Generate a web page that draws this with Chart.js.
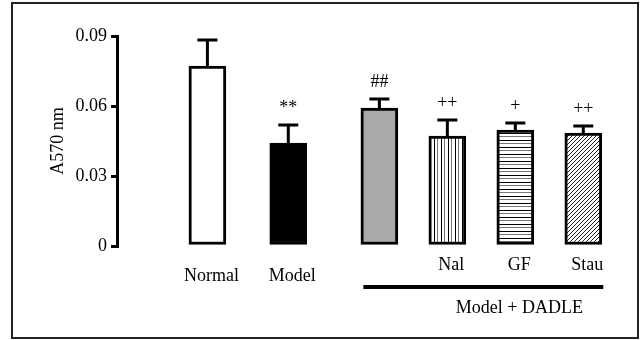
<!DOCTYPE html>
<html>
<head>
<meta charset="utf-8">
<title>A570 nm</title>
<script src="https://cdn.jsdelivr.net/npm/chart.js@4"></script>
<style>
    body { margin: 0; background: #fff; }
    canvas { display: block; }
</style>
</head>
<body>
<canvas id="absChart" width="642" height="340"></canvas>
<script>
// group names under the bars (the DADLE bar has no own label)
const groupLabels = ["Normal", "Model", "", "Nal", "GF", "Stau"];
// mean absorbance
const meanValues = [0.0771, 0.0441, 0.0591, 0.0471, 0.0497, 0.0484];
// error (upper whisker only)
const errValues = [0.0112, 0.0078, 0.0039, 0.0069, 0.0030, 0.0030];
// significance marks
const sigMarks = ["", "**", "##", "++", "+", "++"];
const yTicks = [0, 0.03, 0.06, 0.09];
const groupTitle = "Model + DADLE";

document.addEventListener("DOMContentLoaded", function () {

    const serif = "'Liberation Serif', 'Times New Roman', serif";
    const canvas = document.getElementById("absChart");

    // slot along x: first two bars a bit apart, then the DADLE group
    function slot(i) {
        return i < 2 ? i * 1.19 : 2.53 + (i - 2);
    }

    function makePattern(kind) {
        const c = document.createElement("canvas");
        const s = kind === "diag" ? 4 : 7;
        c.width = s;
        c.height = s;
        const g = c.getContext("2d");
        g.fillStyle = "#fff";
        g.fillRect(0, 0, s, s);
        if (kind === "vert") {
            g.fillStyle = "#000";
            g.fillRect(0, 0, 1, s);
            g.fillStyle = "#777";
            g.fillRect(3, 0, 1, s);
        } else if (kind === "horiz") {
            g.fillStyle = "#000";
            g.fillRect(0, 0, s, 1);
            g.fillStyle = "#777";
            g.fillRect(0, 3, s, 1);
        } else {
            g.strokeStyle = "#222";
            g.lineWidth = 1;
            g.beginPath();
            g.moveTo(0, s); g.lineTo(s, 0);
            g.moveTo(-1, 1); g.lineTo(1, -1);
            g.moveTo(s - 1, s + 1); g.lineTo(s + 1, s - 1);
            g.stroke();
        }
        return canvas.getContext("2d").createPattern(c, "repeat");
    }

    const fills = ["#ffffff", "#000000", "#a8aaaa", makePattern("vert"), makePattern("horiz"), makePattern("diag")];

    // error bars, marks, labels, bracket and frame
    const extrasPlugin = {
        id: "extras",
        afterDatasetsDraw(chart) {
            const ctx = chart.ctx;
            const xs = chart.scales.x;
            const ys = chart.scales.y;
            ctx.save();
            ctx.strokeStyle = "#000";
            ctx.fillStyle = "#000";
            ctx.lineWidth = 3;

            meanValues.forEach((v, i) => {
                const x = xs.getPixelForValue(slot(i));
                const yTop = ys.getPixelForValue(v);
                const yErr = ys.getPixelForValue(v + errValues[i]);
                ctx.beginPath();
                ctx.moveTo(x, yTop);
                ctx.lineTo(x, yErr);
                ctx.moveTo(x - 10, yErr);
                ctx.lineTo(x + 10, yErr);
                ctx.stroke();

                ctx.font = "18px " + serif;
                ctx.textAlign = "center";
                ctx.textBaseline = "middle";
                if (sigMarks[i]) {
                    ctx.fillText(sigMarks[i], x, yErr - 17);
                }

                if (groupLabels[i]) {
                    const ly = i < 2 ? 276 : 265;
                    ctx.fillText(groupLabels[i], x + 4, ly);
                }
            });

            // bracket under the DADLE group
            const x0 = xs.getPixelForValue(slot(2)) - 16;
            const x1 = xs.getPixelForValue(slot(5)) + 20;
            ctx.lineWidth = 4;
            ctx.beginPath();
            ctx.moveTo(x0, 287);
            ctx.lineTo(x1, 287);
            ctx.stroke();
            ctx.fillText(groupTitle, xs.getPixelForValue(slot(4)) + 4, 308);

            // outer frame
            ctx.lineWidth = 2;
            ctx.strokeStyle = "#222";
            ctx.strokeRect(12, 3, 626, 335);
            ctx.restore();
        }
    };

    new Chart(canvas.getContext("2d"), {
        type: "bar",
        data: {
            datasets: [{
                data: meanValues.map((v, i) => ({ x: slot(i), y: v })),
                backgroundColor: fills,
                borderColor: "#000",
                borderWidth: 3,
                borderSkipped: false,
                barThickness: 37
            }]
        },
        options: {
            responsive: false,
            animation: false,
            layout: {
                padding: { left: 40, right: 22, top: 36, bottom: 94 }
            },
            plugins: {
                legend: { display: false },
                tooltip: { enabled: false }
            },
            scales: {
                x: {
                    type: "linear",
                    min: -1.33,
                    max: 6.07,
                    offset: false,
                    display: false
                },
                y: {
                    min: 0,
                    max: 0.09,
                    afterFit: function (scale) { scale.width = 77; },
                    afterBuildTicks: function (scale) {
                        scale.ticks = yTicks.map(v => ({ value: v }));
                    },
                    border: { display: true, width: 3, color: "#000" },
                    grid: {
                        drawOnChartArea: false,
                        drawTicks: true,
                        tickLength: 6,
                        tickWidth: 3,
                        tickColor: "#000",
                        lineWidth: 3,
                        color: "#000"
                    },
                    ticks: {
                        padding: 4,
                        color: "#000",
                        font: { family: serif, size: 18 },
                        callback: v => (v === 0 ? "0" : v.toFixed(2))
                    },
                    title: {
                        display: true,
                        text: "A570 nm",
                        color: "#000",
                        font: { family: serif, size: 18 },
                        padding: { top: 7, bottom: 0 }
                    }
                }
            }
        },
        plugins: [extrasPlugin]
    });
});
</script>
</body>
</html>
